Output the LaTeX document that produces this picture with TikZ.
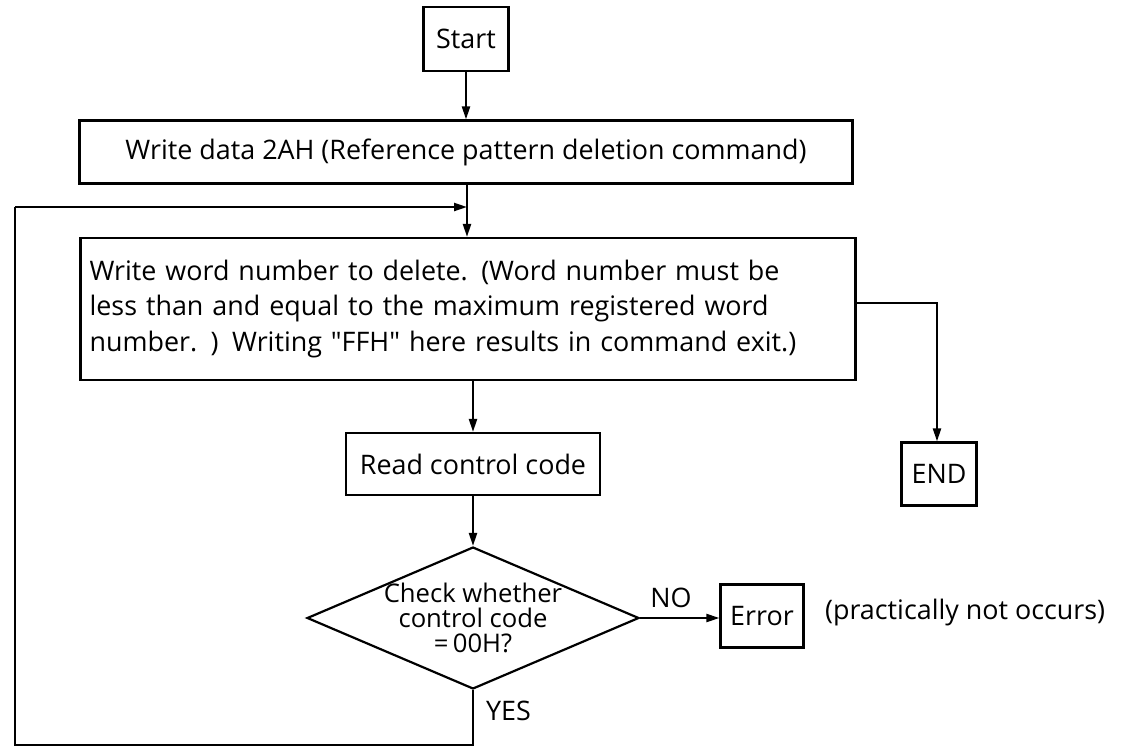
\documentclass[tikz,border=0pt]{standalone}
\usepackage{fontspec}
\setmainfont{Open Sans}
\newfontfamily\plainquotes{Open Sans}[Ligatures=TeXOff]
\usetikzlibrary{arrows.meta,shapes.geometric}
\begin{document}
\begin{tikzpicture}[x=0.02cm,y=-0.02cm,
  every node/.style={font=\fontsize{15.3}{21}\selectfont},
  box/.style={draw,line width=1.25pt,inner sep=0pt,align=center},
  conn/.style={line width=1.25pt},
  arr/.style={conn,-{Triangle[length=0.26cm,width=0.16cm]}},
  lbl/.style={inner sep=1pt}]
\useasboundingbox (0,0) rectangle (1123,748);
\node[box,minimum width=1.7cm,minimum height=1.28cm] (start) at (466,39) {Start};
\node[box,minimum width=15.46cm,minimum height=1.26cm] (w2) at (466,152) {Write data 2AH (Reference pattern deletion command)};
\node[box,minimum width=15.5cm,minimum height=2.84cm,align=left,text width=15.14cm,inner sep=0.18cm,
  font=\fontsize{15.3}{16}\selectfont] (w3) at (468,309)
  {Write word number to delete. (Word number must be\\[0.14cm]less than and equal to the maximum registered word\\[0.14cm]number. ) Writing {\plainquotes"FFH"} here results in command exit.)};
\node[box,minimum width=1.5cm,minimum height=1.26cm] (end) at (939,474) {END};
\node[box,minimum width=5.08cm,minimum height=1.24cm] (read) at (473,464) {Read control code};
\node[diamond,draw,line width=1.25pt,inner sep=-3pt,aspect=2.34,minimum width=6.64cm,minimum height=2.84cm,align=center,
  font=\fontsize{14.6}{14}\selectfont] (chk) at (473,618) {Check whether\\control code\\=\,00H?};
\node[box,minimum width=1.66cm,minimum height=1.26cm] (err) at (762,616) {Error};
\node[lbl,anchor=west] (note) at (823,613) {(practically not occurs)};
\node[lbl] (no) at (671,598) {NO};
\node[lbl,anchor=west] (yes) at (484,711) {YES};
\coordinate (join) at (467,207);
\coordinate (endturn) at (937,303);
\coordinate (bot) at (473,745);
\coordinate (botl) at (15,745);
\coordinate (topl) at (15,207);
\draw[arr] (start.south) -- (w2.north -| start.south);
\draw[arr] (w2.south -| join) -- (w3.north -| join);
\draw[arr] (w3.south -| read.north) -- (read.north);
\draw[arr] (read.south) -- (chk.north);
\draw[arr] (chk.east) -- (chk.east -| err.west);
\draw[arr] (w3.east |- endturn) -- (endturn) -- (end.north -| endturn);
\draw[conn] (chk.south) -- (bot) -- (botl) -- (topl);
\draw[arr] (topl) -- (join);
\end{tikzpicture}
\end{document}
